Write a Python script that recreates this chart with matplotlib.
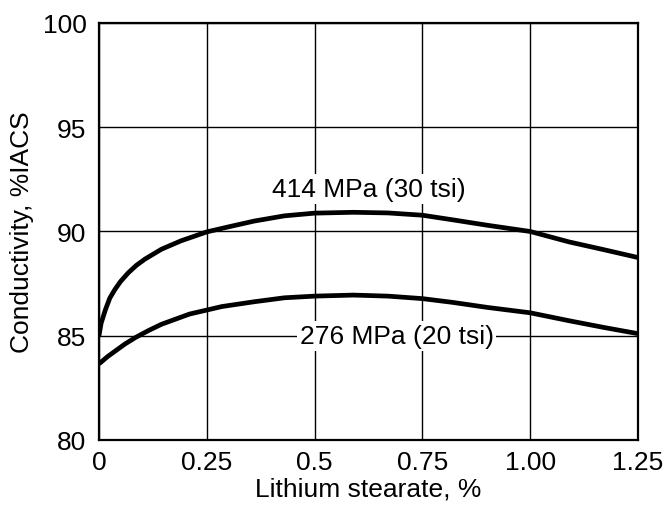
import matplotlib
matplotlib.use('Agg')
import matplotlib.pyplot as plt

plt.rcParams['font.family'] = ['Liberation Sans', 'DejaVu Sans']

# 414 MPa (30 tsi) compaction curve
x_hi = [0, 0.005, 0.015, 0.025, 0.037, 0.05, 0.068, 0.087, 0.107, 0.145, 0.19,
        0.25, 0.3, 0.36, 0.43, 0.5, 0.59, 0.67, 0.75, 0.82, 0.9, 1.0, 1.09,
        1.17, 1.25]
y_hi = [85.0, 85.6, 86.25, 86.8, 87.22, 87.6, 88.02, 88.38, 88.68, 89.15, 89.55,
        89.98, 90.22, 90.5, 90.75, 90.88, 90.92, 90.89, 90.78, 90.56, 90.3, 90.0,
        89.5, 89.13, 88.75]

# 276 MPa (20 tsi) compaction curve
x_lo = [0, 0.02, 0.04, 0.06, 0.085, 0.115, 0.145, 0.21, 0.285, 0.36, 0.43,
        0.5, 0.59, 0.67, 0.75, 0.82, 0.9, 1.0, 1.09, 1.17, 1.25]
y_lo = [83.65, 84.0, 84.3, 84.6, 84.92, 85.25, 85.55, 86.04, 86.4, 86.63, 86.82,
        86.9, 86.95, 86.9, 86.78, 86.6, 86.36, 86.1, 85.72, 85.4, 85.1]

x_ticks = [0, 0.25, 0.5, 0.75, 1.0, 1.25]
x_ticklabels = ['0', '0.25', '0.5', '0.75', '1.00', '1.25']
y_ticks = [80, 85, 90, 95, 100]

fig = plt.figure(figsize=(6.66, 5.10), dpi=100)
ax = fig.add_axes([0.1486, 0.1353, 0.8094, 0.8177])

ax.set_xlim(0, 1.25)
ax.set_ylim(80, 100)
ax.set_xticks(x_ticks)
ax.set_xticklabels(x_ticklabels)
ax.set_yticks(y_ticks)
ax.tick_params(length=0, labelsize=19, pad=9, colors='black')
ax.tick_params(axis='x', pad=7)

ax.grid(True, color='black', linewidth=1.0)
ax.set_axisbelow(True)
for s in ax.spines.values():
    s.set_linewidth(1.6)

ax.plot(x_hi, y_hi, color='black', linewidth=3.4, solid_capstyle='butt',
        solid_joinstyle='round', zorder=3)
ax.plot(x_lo, y_lo, color='black', linewidth=3.4, solid_capstyle='butt',
        solid_joinstyle='round', zorder=3)

box = dict(facecolor='white', edgecolor='none', pad=2)
ax.text(0.625, 92.05, '414 MPa (30 tsi)', fontsize=19, ha='center', va='center',
        bbox=box, zorder=2)
ax.text(0.69, 85.0, '276 MPa (20 tsi)', fontsize=19, ha='center', va='center',
        bbox=box, zorder=2)

ax.set_xlabel('Lithium stearate, %', fontsize=19, labelpad=2)
ax.set_ylabel('Conductivity, %IACS', fontsize=19, labelpad=6)

fig.savefig('out.png', dpi=100)
